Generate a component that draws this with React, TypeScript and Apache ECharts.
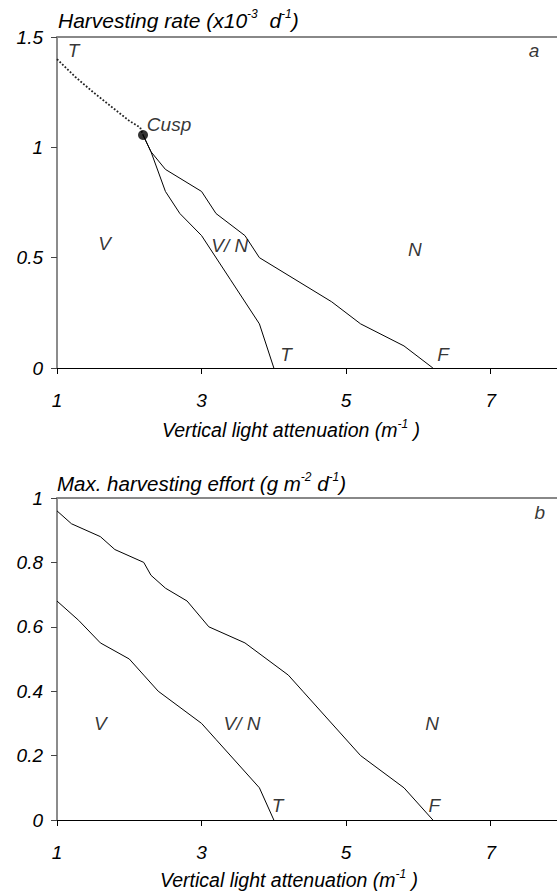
import React, { useEffect, useRef } from "react";
import * as echarts from "echarts";

// ---------- data ----------
const xTicks = [1, 3, 5, 7];
// panel a: harvesting rate (x10^-3 d^-1)
const aDottedX = [1.0, 1.25, 1.5, 1.73, 2.0, 2.15, 2.19];
const aDottedY = [1.4, 1.32, 1.25, 1.19, 1.12, 1.09, 1.056];
const aTX = [2.19, 2.3, 2.5, 2.7, 3.0, 3.4, 3.8, 4.0];
const aTY = [1.056, 0.98, 0.8, 0.7, 0.6, 0.4, 0.2, 0];
const aFX = [2.19, 2.3, 2.5, 3.0, 3.2, 3.6, 3.8, 4.8, 5.2, 5.8, 6.2];
const aFY = [1.056, 0.98, 0.9, 0.8, 0.7, 0.6, 0.5, 0.3, 0.2, 0.1, 0];
const cusp = [2.19, 1.056];
// panel b: max harvesting effort (g m^-2 d^-1)
const bTX = [1.0, 1.3, 1.6, 2.0, 2.2, 2.4, 3.0, 3.2, 3.8, 4.0];
const bTY = [0.68, 0.62, 0.55, 0.5, 0.45, 0.4, 0.3, 0.25, 0.1, 0];
const bFX = [1.0, 1.2, 1.6, 1.8, 2.2, 2.3, 2.5, 2.8, 3.1, 3.6, 4.2, 4.4, 5.2, 5.8, 6.2];
const bFY = [0.96, 0.92, 0.88, 0.84, 0.8, 0.76, 0.72, 0.68, 0.6, 0.55, 0.45, 0.4, 0.2, 0.1, 0];
// region labels
const aLabelNames = ["T", "Cusp", "V", "V/ N", "N", "T", "F", "a"];
const aLabelX = [1.23, 2.55, 1.66, 3.39, 5.95, 4.17, 6.34, 7.6];
const aLabelY = [1.44, 1.105, 0.566, 0.557, 0.535, 0.06, 0.06, 1.44];
const bLabelNames = ["V", "V/ N", "N", "T", "F", "b"];
const bLabelX = [1.6, 3.56, 6.19, 4.05, 6.22, 7.68];
const bLabelY = [0.3, 0.3, 0.3, 0.045, 0.045, 0.955];

const FONT = "'Liberation Sans', Arial, sans-serif";
const zip = (xs: number[], ys: number[]) => xs.map((x, i) => [x, ys[i]]);

export default function App() {
  const ref = useRef<HTMLDivElement>(null);
  useEffect(() => {
    if (!ref.current) return;
    const chart = echarts.init(ref.current, undefined, { renderer: "svg" });

    const txt = { fontFamily: FONT, fontStyle: "italic" as const, color: "#000" };
    const xBottom = (grid: number) => ({
      type: "value",
      gridIndex: grid,
      position: "bottom",
      min: 1,
      max: 8,
      interval: 2,
      axisLine: { show: true, onZero: false, lineStyle: { color: "#000", width: 1 } },
      axisTick: { show: true, inside: false, length: 6, lineStyle: { color: "#000" } },
      axisLabel: { ...txt, fontSize: 19, margin: 23, showMaxLabel: false,
        formatter: (v: number) => (xTicks.includes(v) ? String(v) : "") },
      splitLine: { show: false },
    });
    const xTop = (grid: number) => ({
      type: "value",
      gridIndex: grid,
      position: "top",
      min: 1,
      max: 8,
      axisLine: { show: true, onZero: false, lineStyle: { color: "#888", width: 2 } },
      axisTick: { show: false },
      axisLabel: { show: false },
      splitLine: { show: false },
    });
    const yAx = (grid: number, max: number, interval: number) => ({
      type: "value",
      gridIndex: grid,
      min: 0,
      max,
      interval,
      axisLine: { show: true, lineStyle: { color: "#666", width: 1.5 } },
      axisTick: { show: true, inside: false, length: 6, lineStyle: { color: "#444" } },
      axisLabel: { ...txt, fontSize: 19, margin: 14 },
      splitLine: { show: false },
    });
    const line = (xi: number, data: number[][], dotted = false) => ({
      type: "line",
      xAxisIndex: xi,
      yAxisIndex: xi === 0 ? 0 : 1,
      data,
      showSymbol: false,
      symbol: "none",
      lineStyle: dotted
        ? { color: "#222", width: 1.8, type: "dotted" }
        : { color: "#000", width: 1 },
      z: 3,
    });
    const labels = (xi: number, names: string[], xs: number[], ys: number[]) => ({
      type: "scatter",
      xAxisIndex: xi,
      yAxisIndex: xi === 0 ? 0 : 1,
      symbolSize: 0,
      data: names.map((n, i) => ({ name: n, value: [xs[i], ys[i]] })),
      label: { show: true, position: "inside", formatter: "{b}", ...txt, fontSize: 19 },
      z: 5,
    });
    const rich = (size: number) => ({
      n: { fontFamily: FONT, fontStyle: "italic", fontSize: size, lineHeight: size + 4, fill: "#000", color: "#000" },
      s: { fontFamily: FONT, fontStyle: "italic", fontSize: 12, verticalAlign: "top", fill: "#000", color: "#000" },
    });
    const axisTitle = "{n|Vertical light attenuation (m}{s|-1}{n| )}";

    chart.setOption({
      animation: false,
      backgroundColor: "#fff",
      grid: [
        { left: 57, right: 0, top: 37, height: 331 },
        { left: 57, right: 0, top: 498, height: 322 },
      ],
      xAxis: [xBottom(0), xTop(0), xBottom(1), xTop(1)],
      yAxis: [yAx(0, 1.5, 0.5), yAx(1, 1, 0.2)],
      series: [
        line(0, zip(aDottedX, aDottedY), true),
        line(0, zip(aTX, aTY)),
        line(0, zip(aFX, aFY)),
        {
          type: "scatter",
          xAxisIndex: 0,
          yAxisIndex: 0,
          symbolSize: 10,
          itemStyle: { color: "#000" },
          data: [cusp],
          z: 6,
        },
        labels(0, aLabelNames, aLabelX, aLabelY),
        line(2, zip(bTX, bTY)),
        line(2, zip(bFX, bFY)),
        labels(2, bLabelNames, bLabelX, bLabelY),
      ],
      graphic: [
        {
          type: "text", x: 58, y: 20,
          style: { text: "{n|Harvesting rate (x10}{s|-3}{n|  d}{s|-1}{n|)}", rich: rich(21),
            textAlign: "left", textVerticalAlign: "middle" },
        },
        {
          type: "text", x: 57, y: 483,
          style: { text: "{n|Max. harvesting effort (g m}{s|-2}{n| d}{s|-1}{n|)}", rich: rich(20.5),
            textAlign: "left", textVerticalAlign: "middle" },
        },
        {
          type: "text", x: 291, y: 430,
          style: { text: axisTitle, rich: rich(19.5), textAlign: "center", textVerticalAlign: "middle" },
        },
        {
          type: "text", x: 289, y: 880,
          style: { text: axisTitle, rich: rich(19.5), textAlign: "center", textVerticalAlign: "middle" },
        },
      ],
    });
    return () => chart.dispose();
  }, []);

  return (
    <div style={{ position: "absolute", left: 0, top: 0, width: 557, height: 892, overflow: "hidden", background: "#fff" }}>
      <div ref={ref} style={{ width: 563, height: 892 }} />
    </div>
  );
}
